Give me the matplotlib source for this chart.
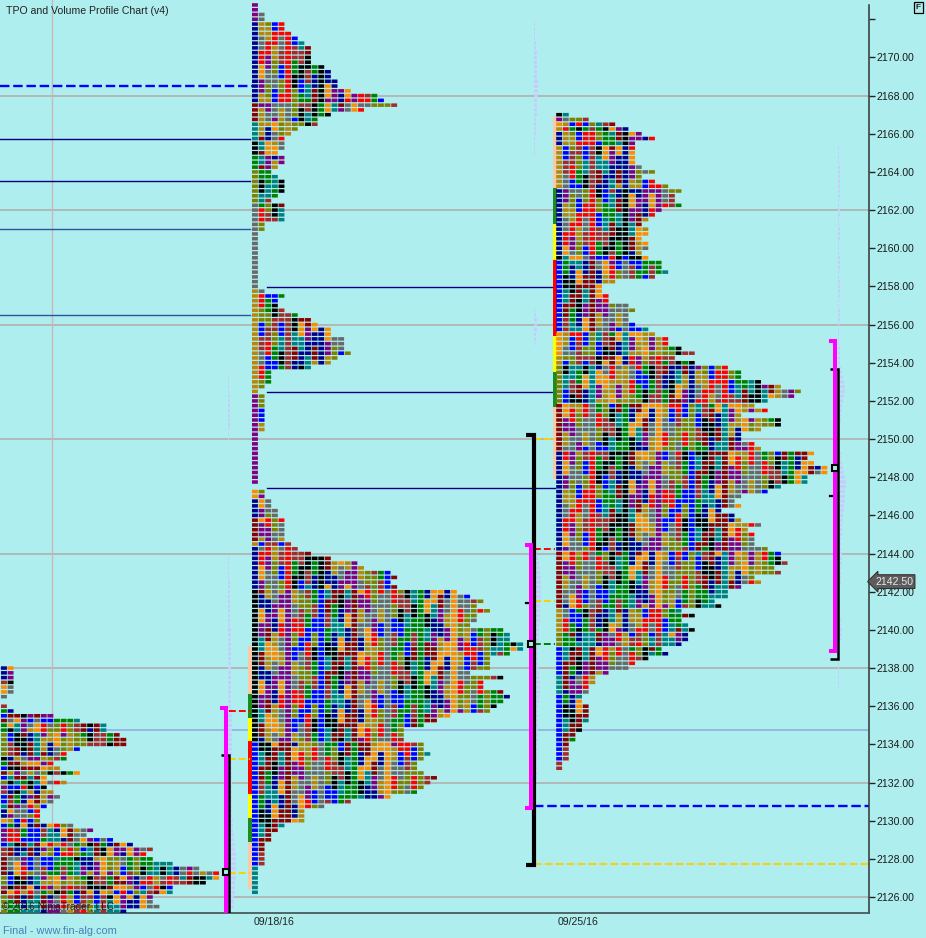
"""
TPO and volume profile chart, three sessions side by side
"""
import matplotlib
matplotlib.use('Agg')
import numpy as np
import matplotlib.pyplot as plt

plt.rcParams['font.family'] = ['Liberation Sans', 'DejaVu Sans']

# period colours in time order, one letter each
period_codes = 'nopgyrlbwektd'
period_colors = ['#00008b', '#ff8c00', '#800080', '#b8860b', '#696969', '#ff0000', '#808000',
                 '#0000ff', '#a52a2a', '#008000', '#000000', '#008080', '#8b0000']

# session before 09/18, clipped by the left edge
old_top = 2138.0
old_widths = [2, 2, 2, 2, 2, 2, 1, 0, 1, 2, 8, 12, 16, 16, 18, 19, 19, 12, 10, 10,
              8, 9, 12, 7, 10, 7, 8, 9, 8, 7, 6, 6, 6, 11, 14, 13, 17, 20, 23, 22,
              23, 26, 30, 33, 33, 31, 26, 26, 23, 23, 24, 19]
old_first = 'nwoywebdelkebdblpwbtnobpbwdlwdl'
old_runs = [3, 1, 2, 2, 1, 1, 1, 1, 2, 5, 1, 1, 1, 1, 1, 1, 1, 1, 2, 1, 2, 1, 1, 3, 1, 2, 4, 2, 1, 1, 4]

# session 09/18
sep18_top = 2172.75
sep18_widths = [1, 1, 2, 2, 5, 5, 6, 7, 8, 9, 9, 9, 9, 11, 12, 12, 13, 13, 15, 19,
                20, 22, 17, 12, 10, 10, 7, 6, 5, 5, 5, 4, 5, 5, 4, 3, 4, 5, 5, 5,
                4, 3, 5, 5, 5, 5, 2, 2, 1, 1, 1, 1, 1, 1, 1, 1, 1, 1, 1, 1,
                2, 5, 4, 4, 5, 7, 9, 10, 12, 12, 14, 14, 14, 15, 13, 12, 9, 3, 3, 3,
                2, 1, 2, 2, 2, 2, 2, 2, 2, 2, 1, 1, 1, 1, 1, 1, 1, 1, 1, 1,
                1, 0, 2, 2, 3, 3, 4, 4, 5, 5, 5, 5, 5, 6, 7, 9, 12, 16, 17, 21,
                22, 21, 22, 31, 33, 35, 34, 36, 34, 34, 33, 38, 39, 39, 41, 41, 39, 36, 36, 36,
                33, 38, 35, 35, 38, 39, 38, 37, 36, 30, 28, 26, 23, 23, 23, 26, 26, 27, 26, 25,
                25, 26, 28, 27, 26, 25, 21, 15, 11, 8, 8, 8, 5, 4, 3, 3, 2, 2, 2, 2,
                2, 1, 1, 1, 1, 1, 1]
sep18_first = 'pndtkelygpondgnkbt'
sep18_runs = [4, 17, 4, 4, 3, 3, 7, 18, 22, 20, 2, 4, 5, 1, 9, 32, 26, 6]

# session 09/25
sep25_top = 2167.0
sep25_widths = [2, 5, 9, 11, 13, 15, 12, 12, 12, 12, 12, 13, 15, 13, 15, 17, 19, 18, 18, 19,
                16, 15, 14, 13, 14, 14, 13, 14, 14, 13, 14, 16, 16, 17, 15, 9, 7, 7, 8, 8,
                11, 12, 11, 11, 12, 14, 15, 17, 17, 19, 21, 18, 21, 26, 28, 28, 31, 34, 37, 36,
                32, 30, 32, 28, 34, 34, 31, 28, 28, 30, 31, 39, 38, 39, 41, 41, 38, 38, 34, 32,
                28, 27, 28, 25, 27, 28, 31, 29, 30, 30, 30, 32, 34, 34, 35, 33, 34, 30, 31, 28,
                26, 26, 24, 25, 19, 21, 19, 20, 21, 20, 20, 19, 16, 17, 14, 12, 11, 8, 6, 6,
                5, 5, 4, 4, 5, 5, 5, 5, 4, 4, 3, 3, 2, 2, 2, 2, 1, 1]
sep25_first = 'kpogngnkbogldndglbtbw'
sep25_runs = [1, 1, 1, 1, 3, 9, 14, 1, 15, 5, 2, 8, 10, 21, 12, 5, 3, 6, 4, 14, 2]

# faint volume profiles, one width per quarter point
vol_a_tops = [2153.25, 2143.75]
vol_a_widths = [[1, 1, 1, 1, 2, 2, 2, 2, 2, 2, 2, 1, 1, 1],
                [1, 1, 1, 1, 1, 2, 2, 2, 2, 2, 2, 2, 2, 2, 2, 3, 3, 3, 3, 3, 3, 3, 3, 3, 3, 3, 3, 3, 3, 3,
                 3, 3, 4, 4, 4, 4, 4, 4, 4, 4, 4, 4, 4, 4, 4, 4, 4, 4, 4, 4,
                 4, 4, 4, 4, 4, 5, 5, 5, 6, 6, 7, 7, 8, 8, 8, 8, 8, 8, 7, 7, 7, 6, 6, 6]]
vol_b_tops = [2171.75, 2156.75, 2144.25]
vol_b_widths = [[1, 1, 1, 1, 2, 2, 3, 3, 3, 3, 3, 3, 4, 4, 4, 4, 3, 3, 3, 3, 2, 2, 2, 2, 1, 1, 1, 1],
                [1, 2, 3, 3, 3, 2, 2, 1],
                [3, 3, 4, 5, 6, 6, 7, 7, 7, 7, 7, 7, 6, 6, 6, 6, 5, 5, 5, 5, 5, 4, 4, 4, 4, 5, 5, 5,
                 6, 6, 6, 5, 5, 4, 4, 4, 4, 4, 4, 4, 4, 3, 3, 3, 3, 3, 3, 3, 3, 2, 2, 2, 2, 2, 2]]
vol_c_tops = [2165.25]
vol_c_widths = [[1, 1, 1, 1, 2, 2, 2, 2, 2, 2, 2, 1, 1, 2, 2, 1, 1, 2, 2, 2, 1, 1, 1, 2, 2, 2, 1, 1, 2, 2,
                 2, 2, 1, 1, 2, 2, 2, 1, 1, 1, 1, 1, 2, 2, 2, 2, 3, 4, 5, 6, 7, 7, 6, 5, 4, 4,
                 3, 3, 2, 2, 2, 2, 2, 2, 3, 3, 4, 5, 6, 7, 8, 8, 7, 7, 7, 6, 6, 5, 5,
                 4, 4, 4, 3, 3, 3, 4, 4, 4, 3, 3, 3, 3, 2, 2, 2, 2, 2, 2, 2, 3, 3, 4, 4, 3,
                 1, 1, 1, 1, 1, 1, 1, 1, 1, 1]]

# price levels
grid_prices = [2168, 2162, 2156, 2150, 2144, 2138, 2132, 2126]
blue_level = 2134.75
left_levels = [2165.75, 2163.5, 2161.0, 2156.5]
left_level_colors = ['#000080', '#000080', '#3050a0', '#3050a0']
mid_levels = [2158.0, 2152.5, 2147.5]
sep18_pvah = 2168.5

strip18_edges = [2139.15, 2136.65, 2135.4, 2134.2, 2131.4, 2130.15, 2128.9, 2126.4]
strip25_edges = [2166.93, 2163.16, 2161.27, 2159.39, 2155.4, 2153.52, 2151.68, 2147.9]
strip_colors = ['#f9c9a8', '#1e8b1e', '#ffff00', '#ff0000', '#ffff00', '#1e8b1e', '#f9c9a8']

ticks = np.arange(2126, 2171, 2)
tick_labels = ['%.2f' % t for t in ticks]

bg = '#afeeee'
rowstep = 0.25
colstep = 6.63

fig = plt.figure(figsize=(9.26, 9.38), dpi=100, facecolor=bg)
ax = fig.add_axes([0, 25.3/938, 869/926, 912.7/938], facecolor=bg)
ax.set_xlim(0, 869)
ax.set_ylim(2125.18, 2173.01)


def draw_profile(left, top, widths, first, runs):
    first_col = ''.join(code*n for code, n in zip(first, runs))
    xs, ys, cols = [], [], []
    for i, w in enumerate(widths):
        base = period_codes.index(first_col[i])
        for c in range(w):
            # later columns walk on through the periods, with some skipped
            skip = (((i + 2*c)//3)*c) % 5
            xs.append(left + c*colstep)
            ys.append(top - i*rowstep)
            cols.append(period_colors[(base + c + skip) % 13])
    ax.barh(ys, 5.9, left=xs, height=0.185, color=cols, linewidth=0, zorder=3, snap=False)


def draw_volume(left, tops, widths):
    for top, w in zip(tops, widths):
        ys = top - np.arange(len(w))*rowstep
        ax.barh(ys, w, left=left, height=0.17, color='#c4cdfb', linewidth=0, zorder=2, snap=False)


def draw_strip(x, edges):
    for k, c in enumerate(strip_colors):
        ax.fill_betweenx([edges[k+1], edges[k]], x, x+3.8, color=c, linewidth=0, zorder=2.5)


def draw_range(x, mag_hi, mag_lo, blk_hi, blk_lo, mids, poc, blk_lw=1.8):
    ax.plot([x-6, x, x, x-6], [mag_hi, mag_hi, mag_lo, mag_lo], color='#ff00ff', lw=2.9,
            solid_joinstyle='miter', solid_capstyle='butt', zorder=5)
    ax.plot([x-5, x+2.8, x+2.8, x-5], [blk_hi, blk_hi, blk_lo, blk_lo], color='k', lw=blk_lw,
            solid_joinstyle='miter', solid_capstyle='butt', zorder=4.5)
    for m in mids:
        ax.plot([x-5, x], [m, m], color='k', lw=1.6, zorder=4.5)
    ax.plot(x-0.5, poc, 's', ms=4.6, mfc=bg, mec='k', mew=1.5, zorder=6)


# background levels
for p in grid_prices:
    ax.axhline(p, color='#b4aaaa', lw=1.1, zorder=1)
ax.axhline(blue_level, color='#8fa8e0', lw=1.1, zorder=1)
ax.axvline(52, color='#c4b8b8', lw=1, zorder=1)

ax.plot([0, 253], [sep18_pvah, sep18_pvah], color='#0000ff', lw=1.7, ls=(0, (4, 1.6)), zorder=2)
for p, c in zip(left_levels, left_level_colors):
    ax.plot([0, 250], [p, p], color=c, lw=1, zorder=2)
for p in mid_levels:
    ax.plot([267, 555], [p-0.05, p-0.05], color='#000080', lw=1, zorder=2)
ax.plot([534, 869], [2130.75, 2130.75], color='#0000ff', lw=1.7, ls=(0, (4, 1.6)), zorder=2)
ax.plot([534, 869], [2127.72, 2127.72], color='#ffd000', lw=1.4, ls=(0, (4, 1.6)), zorder=2)

draw_volume(228, vol_a_tops, vol_a_widths)
draw_volume(534, vol_b_tops, vol_b_widths)
draw_volume(838, vol_c_tops, vol_c_widths)

draw_strip(248.2, strip18_edges)
draw_strip(553, strip25_edges)

draw_profile(1, old_top, old_widths, old_first, old_runs)
draw_profile(252, sep18_top, sep18_widths, sep18_first, sep18_runs)
draw_profile(556.2, sep25_top, sep25_widths, sep25_first, sep25_runs)

draw_range(226, 2135.9, 2125.0, 2133.45, 2125.0, [], 2127.3)
draw_range(531, 2144.45, 2130.67, 2150.2, 2127.67, [2141.4], 2139.25, blk_lw=3)
draw_range(835, 2155.15, 2138.9, 2153.67, 2138.5, [2147.0], 2148.5)

# value area stubs beside the ranges
dash = (0, (3.5, 1.6))
for x0, x1, p, c in [(229, 250, 2135.75, '#ff0000'), (229, 250, 2133.25, '#ffd000'), (229, 250, 2127.25, '#ffd000'),
                     (534, 555, 2150.0, '#ffd000'), (534, 555, 2144.25, '#ff0000'), (534, 555, 2141.5, '#ffd000'),
                     (534, 555, 2139.25, '#008000')]:
    ax.plot([x0, x1], [p, p], color=c, lw=1.4, ls=dash, zorder=2.6)

# axes
for s in ['top', 'left']:
    ax.spines[s].set_visible(False)
ax.spines['right'].set_color('#333333')
ax.spines['right'].set_linewidth(1.1)
ax.spines['right'].set_bounds(2125.18, 2172.75)
ax.spines['bottom'].set_color('#4a5a5a')
ax.spines['bottom'].set_linewidth(1.3)
ax.yaxis.tick_right()
ax.set_yticks(list(ticks) + [2172])
ax.set_yticklabels(tick_labels + [''], fontsize=7.6, color='#1a1a1a')
ax.tick_params(axis='y', length=4, width=1, color='#222222', pad=1.5)
ax.set_xticks([274, 578])
ax.set_xticklabels(['09/18/16', '09/25/16'], fontsize=7.6, color='#222222')
ax.tick_params(axis='x', length=0, pad=3)

# last price tag
ax.text(875, 2142.53, '2142.50', fontsize=7.6, color='#e8e8e8', va='center', ha='left', clip_on=False, zorder=8,
        bbox=dict(boxstyle='larrow,pad=0.18', fc='#5c5c5c', ec='#333333', lw=0.8))

fig.text(6/926, 1-11/938, 'TPO and Volume Profile Chart (v4)', fontsize=7.6, color='#222222', va='center')
fig.text(2/926, 1-907/938, '\u00a9 2016 NinjaTrader, LLC', fontsize=7.3, color='#222222', va='center', zorder=9)
fig.text(3/926, 1-931/938, 'Final - www.fin-alg.com', fontsize=7.9, color='#4a80b4', va='center')
fig.text(918.5/926, 1-7.5/938, 'F', fontsize=6, color='#222222', va='center', ha='center', weight='bold',
         bbox=dict(boxstyle='square,pad=0.25', fc=bg, ec='k', lw=0.9))

fig.savefig('out.png', dpi=100, facecolor=bg)
